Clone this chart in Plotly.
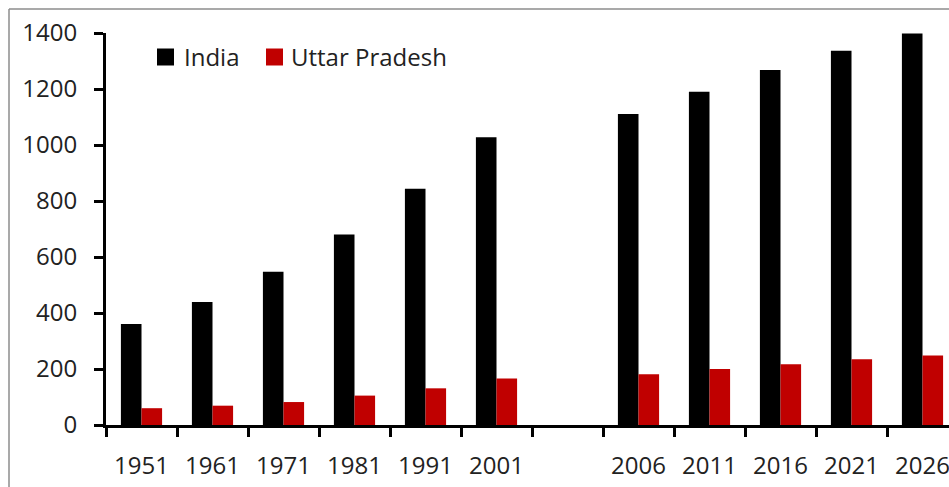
import plotly.graph_objects as go

categories = ["1951", "1961", "1971", "1981", "1991", "2001", " ", "2006", "2011", "2016", "2021", "2026"]
india = [361, 439, 547, 680, 844, 1028, None, 1111, 1190, 1268, 1337, 1398]
uttar_pradesh = [60, 69, 82, 105, 131, 166, None, 181, 200, 217, 235, 248]
y_ticks = [0, 200, 400, 600, 800, 1000, 1200, 1400]
series_names = ["India", "Uttar Pradesh"]
series_colors = ["#000000", "#C00000"]

FONT = "Open Sans"
FS = 24
TXT = "#222222"
W, H = 949, 487
L, T, B = 106, 33, 62
plot_w = W - L
plot_h = H - T - B
cat_px = 71.0


def px_x(p):
    return (p - L) / plot_w


def px_y(p):
    return (H - B - p) / plot_h


fig = go.Figure()
for name, vals, col in zip(series_names, [india, uttar_pradesh], series_colors):
    fig.add_trace(go.Bar(x=categories, y=vals, name=name, showlegend=False,
                         marker=dict(color=col, line=dict(width=0))))

fig.update_layout(
    width=W, height=H,
    margin=dict(l=L, r=0, t=T, b=B, pad=0, autoexpand=False),
    paper_bgcolor="white", plot_bgcolor="white",
    barmode="group", bargap=0.42, bargroupgap=0,
    font=dict(family=FONT, size=FS, color=TXT),
    showlegend=False,
    xaxis=dict(type="category", categoryorder="array", categoryarray=categories,
               range=[-0.5, -0.5 + plot_w / cat_px],
               showline=True, linecolor="black", linewidth=3,
               ticks="outside", tickson="boundaries", ticklen=9, tickwidth=3, tickcolor="black",
               ticklabelstandoff=17,
               showgrid=False, zeroline=False, automargin=False,
               tickfont=dict(size=FS, color=TXT)),
    yaxis=dict(range=[0, 1400], tickvals=y_ticks,
               showline=True, linecolor="black", linewidth=3,
               ticks="outside", ticklen=9, tickwidth=3, tickcolor="black",
               ticklabelstandoff=12,
               showgrid=False, zeroline=False, automargin=False,
               tickfont=dict(size=FS, color=TXT)),
)

# legend (square swatches + labels)
legend_sq_left = [157, 266]
legend_txt_left = [182, 289]
for name, col, sx, tx in zip(series_names, series_colors, legend_sq_left, legend_txt_left):
    fig.add_shape(type="rect", xref="paper", yref="paper",
                  x0=px_x(sx), x1=px_x(sx + 17), y0=px_y(48.5), y1=px_y(65.5),
                  fillcolor=col, line=dict(width=0))
    fig.add_annotation(xref="paper", yref="paper", x=px_x(tx), y=px_y(57),
                       xanchor="left", yanchor="middle", text=name, showarrow=False,
                       font=dict(size=FS, color=TXT, family=FONT))

# outer chart frame (gray)
fx = px_x(9)
fy = px_y(9)
fig.add_shape(type="line", xref="paper", yref="paper", x0=fx, x1=fx, y0=-0.3, y1=fy,
              line=dict(color="#8c8c8c", width=1.5))
fig.add_shape(type="line", xref="paper", yref="paper", x0=fx, x1=1.2, y0=fy, y1=fy,
              line=dict(color="#8c8c8c", width=1.5))

fig.write_html("out.html", config={"displayModeBar": False},
               post_script="document.body.style.margin='0';document.body.style.overflow='hidden';")
